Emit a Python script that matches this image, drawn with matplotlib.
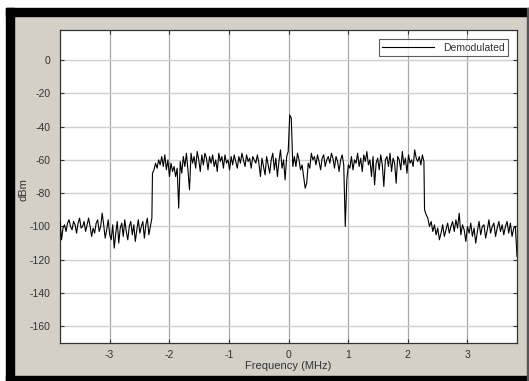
import matplotlib
matplotlib.use("Agg")
import matplotlib.pyplot as plt
import numpy as np
from matplotlib.patches import Rectangle

LEFT_FLOOR_DBM = [
    -97, -108, -101, -99, -103, -98, -96, -100, -102, -97, -99, -104, -98, -95,
    -101, -100, -97, -103, -99, -95, -100, -106, -101, -104, -98, -96, -103,
    -100, -92, -99, -107, -102, -96, -105, -108, -99, -113, -104, -97, -110,
    -101, -98, -106, -96, -103, -108, -100, -97, -105, -99, -109, -102, -96,
    -104, -100, -97, -107, -99, -95, -105, -100, -95,
]
IN_BAND_DBM = [
    -68, -66, -62, -65, -60, -63, -58, -64,
    -57, -66, -60, -70, -62, -67, -64, -70,
    -65, -89, -61, -68, -58, -64, -56, -66, -78,
    -56, -62, -58, -65, -55, -60, -67, -57, -63, -56, -59, -66, -58, -62, -57,
    -64, -60, -67, -56, -61, -58, -65, -57, -62,
    -60, -66, -58, -63, -57, -61, -65, -58, -62, -56, -60, -64, -57, -61, -59,
    -65, -58, -60, -62,
    -57, -62, -70, -59, -64, -69, -58, -63, -68, -60, -56,
    -66, -59, -70, -61, -54, -65, -60, -72, -58, -55,
    -33, -35, -64,
    -58, -64, -56, -60, -66, -63, -70, -77, -74, -62, -65,
    -56, -60, -58, -63, -57, -61, -66, -59, -57, -64, -60, -58, -62, -56, -59,
    -65, -58, -61, -67, -60, -57, -63,
    -100, -72, -63, -65,
    -58, -66, -60, -62, -56, -64, -59, -67, -57, -61, -55, -63, -60, -70, -58,
    -75, -62, -59, -66, -57, -63, -76, -60, -58, -64, -56, -67, -59, -62, -74,
    -58, -60, -66, -55, -63, -59, -68, -57, -62, -60, -64, -54, -59, -61, -58,
    -63, -57, -61,
]
RIGHT_FLOOR_DBM = [
    -90, -93, -95, -100, -97, -103, -99, -105, -101, -108, -104, -99, -106,
    -102, -98, -104, -100, -97, -103, -96, -101, -92, -105, -99, -102, -109,
    -100, -104, -98, -106, -101, -110, -103, -97, -105, -100, -99, -107, -102,
    -96, -104, -100, -98, -106, -101, -97, -103, -99, -105, -100, -97, -104,
    -98, -106, -101, -100, -118,
]
SPAN_MHZ = 3.83
BAND_EDGE_MHZ = 2.28

X_TICKS = [-3, -2, -1, 0, 1, 2, 3]
Y_TICKS = [0, -20, -40, -60, -80, -100, -120, -140, -160]

freq = np.concatenate([
    np.linspace(-SPAN_MHZ, -BAND_EDGE_MHZ - 0.01, len(LEFT_FLOOR_DBM)),
    np.linspace(-BAND_EDGE_MHZ, BAND_EDGE_MHZ - 0.01, len(IN_BAND_DBM)),
    np.linspace(BAND_EDGE_MHZ, SPAN_MHZ, len(RIGHT_FLOOR_DBM)),
])
power = np.array(LEFT_FLOOR_DBM + IN_BAND_DBM + RIGHT_FLOOR_DBM, dtype=float)

plt.rcParams["font.family"] = ["Liberation Sans", "DejaVu Sans"]
plt.rcParams["axes.unicode_minus"] = False

fig = plt.figure(figsize=(5.29, 3.81), dpi=100)
fig.patch.set_facecolor("#d4d0c8")

W, H = 529.0, 381.0


def px_rect(x0, y0, x1, y1, color):
    fig.patches.append(Rectangle((x0 / W, 1 - y1 / H), (x1 - x0) / W, (y1 - y0) / H,
                                 transform=fig.transFigure, color=color, zorder=0))


# window frame around the plot
px_rect(0, 0, W, 8, "white")
px_rect(0, 0, 6, H, "white")
px_rect(6, 8, W, 16, "black")
px_rect(6, 8, 14, H, "black")
px_rect(6, 376, W, H, "black")
px_rect(527, 8, W, H, "#555555")

ax = fig.add_axes([60 / W, 1 - 343 / H, (517 - 60) / W, (343 - 30) / H])
ax.set_facecolor("white")

for x in X_TICKS:
    ax.axvline(x, color="#a8a8a8", lw=0.9, zorder=1)
for y in Y_TICKS:
    ax.axhline(y, color="#cfcfcf", lw=1.0, zorder=1)

ax.plot(freq, power, color="black", lw=0.8, label="Demodulated", zorder=3)

ax.set_xlim(-SPAN_MHZ, SPAN_MHZ)
ax.set_ylim(-170, 18)
ax.set_xticks(X_TICKS)
ax.set_yticks(Y_TICKS)
ax.tick_params(direction="in", length=3, width=0.8, top=True, right=True,
               labelsize=7.5, colors="#333333")
ax.tick_params(axis="y", pad=7)
ax.tick_params(axis="x", pad=5)
for s in ax.spines.values():
    s.set_color("#333333")
    s.set_linewidth(0.9)

ax.set_xlabel("Frequency (MHz)", fontsize=8, color="#333333")
ax.set_ylabel("dBm", fontsize=8, color="#333333")
ax.xaxis.set_label_coords(0.5, -0.058)
ax.yaxis.set_label_coords(-0.068, 0.49)

leg = ax.legend(loc="upper right", fontsize=7.5, frameon=True, fancybox=False,
                handlelength=5, borderpad=0.3, borderaxespad=0.9)
leg.get_frame().set_edgecolor("#333333")
leg.get_frame().set_linewidth(0.8)
for t in leg.get_texts():
    t.set_color("#333333")

fig.savefig("out.png", dpi=100, facecolor=fig.get_facecolor())
